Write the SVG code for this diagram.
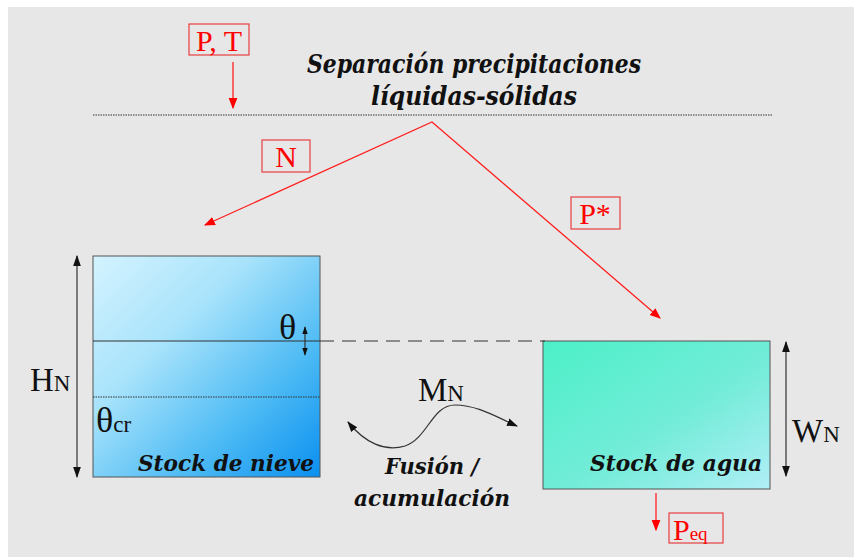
<svg xmlns="http://www.w3.org/2000/svg" width="854" height="557" viewBox="0 0 854 557">
<defs>
<linearGradient id="snow" x1="0" y1="0" x2="1" y2="1">
<stop offset="0" stop-color="#d4f3ff"/>
<stop offset="0.35" stop-color="#a8e3fb"/>
<stop offset="0.7" stop-color="#4cbaf4"/>
<stop offset="1" stop-color="#0a8ff0"/>
</linearGradient>
<linearGradient id="water" x1="0" y1="0" x2="1" y2="1">
<stop offset="0" stop-color="#4cf0c8"/>
<stop offset="0.55" stop-color="#72ecd8"/>
<stop offset="1" stop-color="#b0eef6"/>
</linearGradient>
<marker id="ar" viewBox="0 0 10 10" refX="9" refY="5" markerWidth="11" markerHeight="11" markerUnits="userSpaceOnUse" orient="auto-start-reverse">
<path d="M0,1 L10,5 L0,9 Z" fill="#ff0000"/>
</marker>
<marker id="ak" viewBox="0 0 10 10" refX="9" refY="5" markerWidth="11" markerHeight="11" markerUnits="userSpaceOnUse" orient="auto-start-reverse">
<path d="M0,1.5 L10,5 L0,8.5 Z" fill="#111"/>
</marker>
<marker id="aks" viewBox="0 0 10 10" refX="9" refY="5" markerWidth="8" markerHeight="8" markerUnits="userSpaceOnUse" orient="auto-start-reverse">
<path d="M0,1.5 L10,5 L0,8.5 Z" fill="#111"/>
</marker>
</defs>
<style>
.red{fill:none;stroke:#ff2020;stroke-width:1.3}
.box{fill:none;stroke:#e84040;stroke-width:1.2}
.rt{font-family:"Liberation Serif",serif;fill:#ff0000}
.bt{font-family:"Liberation Serif",serif;fill:#111}
.it{font-family:"DejaVu Serif","Liberation Serif",serif;font-style:italic;font-weight:bold;fill:#111}
.blk{fill:none;stroke:#333;stroke-width:1.2}
</style>
<rect x="0" y="0" width="854" height="557" fill="#ffffff"/>
<rect x="8" y="7" width="846" height="550" fill="#e7e7e7"/>

<g id="title">
<text class="it" x="474" y="73" font-size="26" text-anchor="middle" textLength="334" lengthAdjust="spacingAndGlyphs">Separación precipitaciones</text>
<text class="it" x="474" y="105" font-size="26" text-anchor="middle" textLength="206" lengthAdjust="spacingAndGlyphs">líquidas-sólidas</text>
<line x1="93" y1="115" x2="772" y2="115" stroke="#333" stroke-width="1" stroke-dasharray="1.5,1"/>
</g>

<g id="PT">
<rect class="box" x="189" y="24" width="60" height="31"/>
<text class="rt" x="219" y="51" font-size="30" text-anchor="middle">P, T</text>
</g>

<g id="N">
<rect class="box" x="262" y="140" width="48" height="32"/>
<text class="rt" x="286" y="167" font-size="30" text-anchor="middle">N</text>
</g>

<g id="Pstar">
<rect class="box" x="571" y="197" width="49" height="32"/>
<text class="rt" x="595" y="224" font-size="30" text-anchor="middle">P*</text>
</g>

<g id="snow-stock">
<rect x="93" y="256" width="227" height="221" fill="url(#snow)" stroke="#555" stroke-width="1"/>
<line x1="93" y1="341" x2="320" y2="341" stroke="#333" stroke-width="1"/>
<line x1="93" y1="397" x2="320" y2="397" stroke="#333" stroke-width="1" stroke-dasharray="1.5,1"/>
<text class="bt" x="279" y="339" font-size="36">θ</text>
<text class="bt" x="96" y="432" font-size="36">θ<tspan font-size="23">cr</tspan></text>
<text class="it" x="314" y="471" font-size="23" text-anchor="end" textLength="176" lengthAdjust="spacingAndGlyphs">Stock de nieve</text>
</g>

<g id="water-stock">
<rect x="543" y="341" width="227" height="148" fill="url(#water)" stroke="#555" stroke-width="1"/>
<text class="it" x="762" y="471" font-size="23" text-anchor="end" textLength="172" lengthAdjust="spacingAndGlyphs">Stock de agua</text>
</g>

<g id="HN">
<text class="bt" x="30" y="391" font-size="33">H<tspan font-size="23">N</tspan></text>
</g>
<g id="WN">
<text class="bt" x="792" y="442" font-size="33">W<tspan font-size="23">N</tspan></text>
</g>
<g id="MN">
<text class="bt" x="418" y="401" font-size="33">M<tspan font-size="23">N</tspan></text>
</g>
<g id="fusion">
<text class="it" x="432" y="474" font-size="23" text-anchor="middle" textLength="94" lengthAdjust="spacingAndGlyphs">Fusión /</text>
<text class="it" x="432" y="506" font-size="23" text-anchor="middle" textLength="156" lengthAdjust="spacingAndGlyphs">acumulación</text>
</g>

<g id="Peq">
<rect class="box" x="669" y="513" width="54" height="30"/>
<text class="rt" x="673" y="540" font-size="30">P<tspan font-size="19">eq</tspan></text>
</g>

<g id="connectors">
<line class="red" x1="233" y1="62" x2="233" y2="108" marker-end="url(#ar)"/>
<polyline class="red" points="205,225 432,122 660,318" marker-start="url(#ar)" marker-end="url(#ar)"/>
<line class="red" x1="656" y1="493" x2="656" y2="530" marker-end="url(#ar)"/>
<line x1="320" y1="341" x2="545" y2="341" stroke="#333" stroke-width="1" stroke-dasharray="14,8"/>
<line class="blk" x1="77" y1="256" x2="77" y2="477" marker-start="url(#ak)" marker-end="url(#ak)"/>
<line class="blk" x1="786" y1="342" x2="786" y2="476" marker-start="url(#ak)" marker-end="url(#ak)"/>
<line class="blk" x1="305" y1="327" x2="305" y2="355" marker-start="url(#aks)" marker-end="url(#aks)"/>
<path class="blk" d="M348,422 C365,443 385,452 405,446 C428,438 432,405 455,405 C478,405 498,418 517,426" marker-start="url(#ak)" marker-end="url(#ak)"/>
</g>
</svg>
